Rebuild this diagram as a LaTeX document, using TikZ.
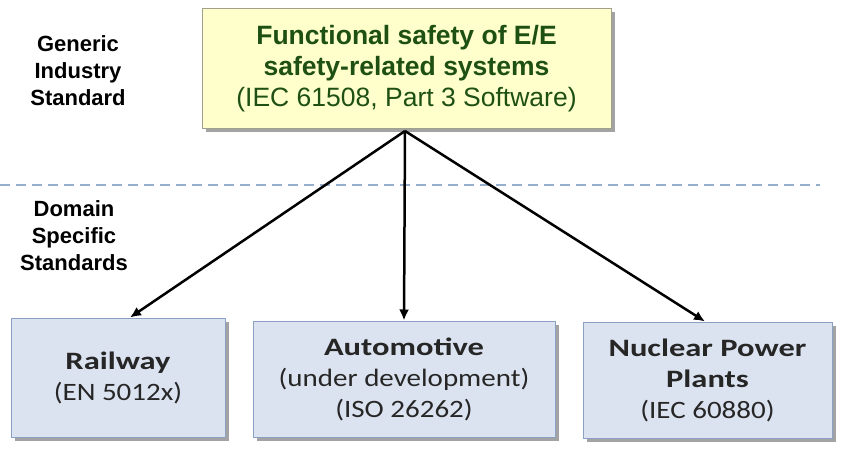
\documentclass[tikz,border=0pt]{standalone}
\usepackage{fontspec}
\setmainfont{Liberation Sans}
\newfontfamily\domfont{Carlito}[FakeStretch=1.16,BoldFeatures={FakeStretch=1.3}]
\usetikzlibrary{arrows.meta,shadows}

\definecolor{genfill}{RGB}{255,255,204}
\definecolor{genline}{RGB}{160,160,140}
\definecolor{gentext}{RGB}{30,80,20}
\definecolor{domfill}{RGB}{220,227,240}
\definecolor{domline}{RGB}{140,160,195}
\definecolor{sepline}{RGB}{150,175,205}

\tikzset{
  genbox/.style={draw=genline, fill=genfill, line width=1pt, align=center,
    minimum width=409pt, minimum height=120pt, inner sep=0pt,
    text=gentext, font=\fontsize{26.5}{31}\selectfont,
    drop shadow={shadow xshift=4pt, shadow yshift=-4pt, fill=black!45, opacity=0.8}},
  dombox/.style={draw=domline, fill=domfill, line width=1pt, align=center,
    inner sep=0pt, text=black!85,
    font=\domfont\fontsize{25}{31}\selectfont,
    drop shadow={shadow xshift=4pt, shadow yshift=-4pt, fill=black!45, opacity=0.8}},
  sidelabel/.style={align=center, font=\bfseries\fontsize{22}{27}\selectfont},
  link/.style={line width=2.5pt, -{Latex[length=11pt,width=10pt]}}
}

\begin{document}
\begin{tikzpicture}[x=1pt,y=-1pt]
  \useasboundingbox (0,0) rectangle (842,462);

  % separator between generic and domain standards
  \draw[sepline, line width=1.2pt, dash pattern=on 10pt off 6pt] (0,185) -- (820,185);

  \node[sidelabel] (generic) at (78,71) {Generic\\Industry\\Standard};
  \node[sidelabel] (domain) at (74,236) {Domain\\Specific\\Standards};

  \node[genbox] (iec) at (406.5,68.5)
    {\textbf{Functional safety of E/E}\\\textbf{safety-related systems}\\(IEC 61508, Part 3 Software)};

  \node[dombox, minimum width=214pt, minimum height=119pt] (rail) at (118,377.5)
    {\textbf{Railway}\\(EN 5012x)};
  \node[dombox, minimum width=302pt, minimum height=116pt] (auto) at (404,379)
    {\textbf{Automotive}\\(under development)\\(ISO 26262)};
  \node[dombox, minimum width=249pt, minimum height=116pt] (nuclear) at (707.5,380)
    {\textbf{Nuclear Power}\\\textbf{Plants}\\(IEC 60880)};

  \coordinate (hub) at (405,131);
  \draw[link] (hub) -- (rail.north -| 130,0);
  \draw[link] (hub) -- (auto.north -| 404,0);
  \draw[link] (hub) -- (nuclear.north -| 705,0);
\end{tikzpicture}
\end{document}
